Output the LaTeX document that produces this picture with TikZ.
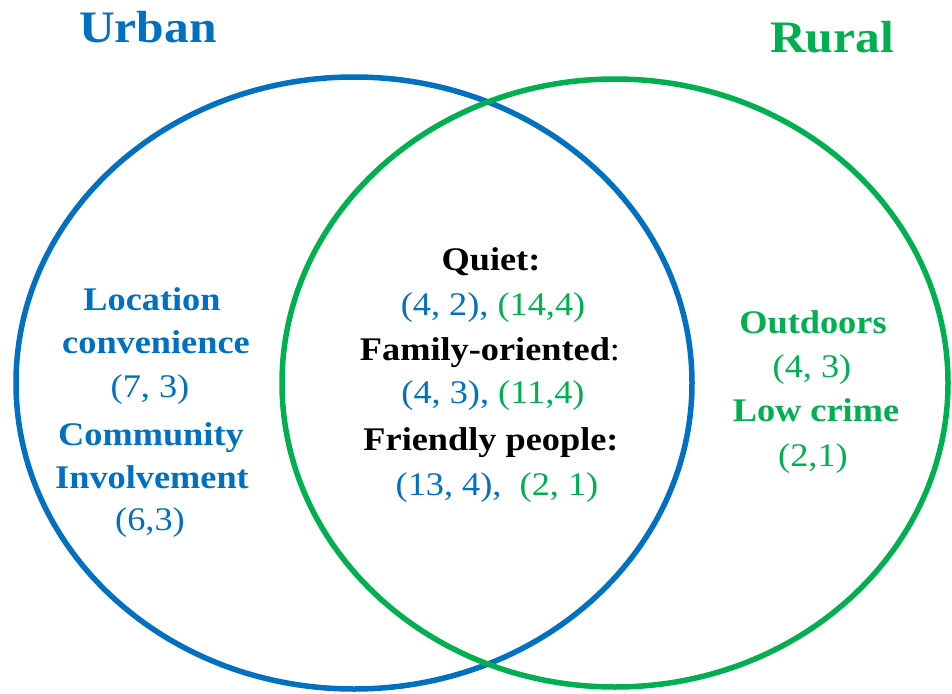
\documentclass[tikz,border=0pt]{standalone}
\usepackage{fontspec}
\setmainfont{Liberation Serif}
\usepackage{xcolor}
\usetikzlibrary{positioning}
\definecolor{urbanblue}{HTML}{0070C0}
\definecolor{ruralgreen}{HTML}{00B050}

\begin{document}
\begin{tikzpicture}[x=1bp,y=-1bp,
    every node/.style={xscale=1.1,inner sep=0pt,anchor=base},
    title/.style={font=\fontsize{45bp}{52bp}\selectfont\bfseries},
    txt/.style={font=\fontsize{33bp}{40bp}\selectfont},
    head/.style={font=\fontsize{33bp}{40bp}\selectfont\bfseries}]
		\useasboundingbox (0,0) rectangle (952,694);
		% the two sets
		\draw [urbanblue,line width=5.5bp] (354,383) ellipse [x radius=338,y radius=306];
		\draw [ruralgreen,line width=5.5bp] (615,383) ellipse [x radius=333,y radius=304];
		\node [title,urbanblue] (urban) at (148,43) {Urban};
		\node [title,ruralgreen] (rural) at (832,53) {Rural};
		% urban only
		\node [head,urbanblue] (location) at (152,310) {Location};
		\node [head,urbanblue] (convenience) at (156,353) {convenience};
		\node [txt,urbanblue] (locval) at (150,397) {(7, 3)};
		\node [head,urbanblue] (community) at (151,445) {Community};
		\node [head,urbanblue] (involvement) at (152,488) {Involvement};
		\node [txt,urbanblue] (comval) at (150,530) {(6,3)};
		% both
		\node [head] (quiet) at (491,270) {Quiet:};
		\node [txt] (quietval) at (493,315) {\textcolor{urbanblue}{(4, 2),} \textcolor{ruralgreen}{(14,4)}};
		\node [txt] (family) at (490,360) {\textbf{Family-oriented}:};
		\node [txt] (familyval) at (493,403) {\textcolor{urbanblue}{(4, 3),} \textcolor{ruralgreen}{(11,4)}};
		\node [head] (friendly) at (491,450) {Friendly people:};
		\node [txt] (friendlyval) at (497,495) {\textcolor{urbanblue}{(13, 4),}~ \textcolor{ruralgreen}{(2, 1)}};
		% rural only
		\node [head,ruralgreen] (outdoors) at (813,333) {Outdoors};
		\node [txt,ruralgreen] (outval) at (812,377) {(4, 3)};
		\node [head,ruralgreen] (lowcrime) at (816,421) {Low crime};
		\node [txt,ruralgreen] (crimeval) at (813,466) {(2,1)};
	\end{tikzpicture}
\end{document}
